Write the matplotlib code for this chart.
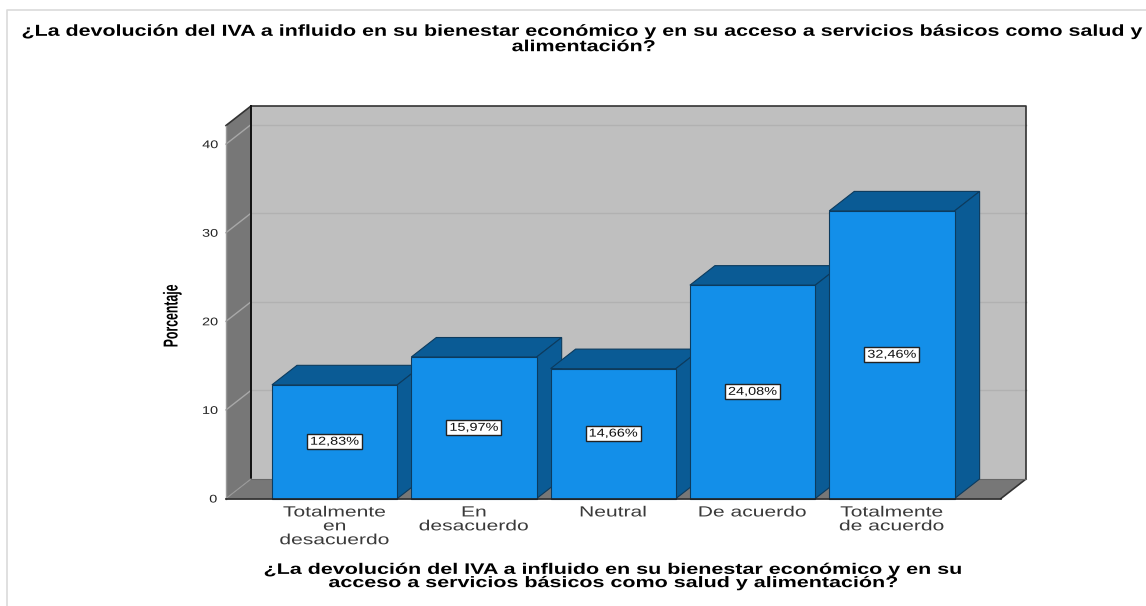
import matplotlib
matplotlib.use("Agg")
import matplotlib.pyplot as plt
from matplotlib.lines import Line2D
from matplotlib.patches import Polygon
from matplotlib.path import Path
from matplotlib.patheffects import AbstractPathEffect
from matplotlib.transforms import Affine2D

W, H = 1146, 606

categories = ["Totalmente\nen\ndesacuerdo", "En\ndesacuerdo", "Neutral", "De acuerdo", "Totalmente\nde acuerdo"]
values = [12.83, 15.97, 14.66, 24.08, 32.46]
value_labels = ["12,83%", "15,97%", "14,66%", "24,08%", "32,46%"]
y_ticks = [0, 10, 20, 30, 40]
title = "¿La devolución del IVA a influido en su bienestar económico y en su acceso a servicios básicos como salud y\nalimentación?"
x_title = "¿La devolución del IVA a influido en su bienestar económico y en su\nacceso a servicios básicos como salud y alimentación?"
y_title = "Porcentaje"

FONT = "Liberation Sans"
FRONT, SHADE = "#138FE9", "#0A5B95"
WALL, SIDE = "#BFBFBF", "#777777"
EDGE = "#0C3B5E"
BAR_W = 0.9
XMIN, XMAX, YMAX = -0.78, 4.783, 42.1
DX, DY = 25 / 139.3, 19.5 / 8.86  # depth offset in data units


class Stretch(AbstractPathEffect):
    """Draw a text line wider or narrower along its baseline, about its centre."""

    def __init__(self, sx):
        super().__init__()
        self.sx = sx

    def draw_path(self, renderer, gc, tpath, affine, rgbFace=None):
        ext = tpath.get_extents()
        cx = (ext.x0 + ext.x1) / 2
        pre = Affine2D().translate(-cx, 0).scale(self.sx, 1).translate(cx, 0)
        renderer.draw_path(gc, tpath, pre + affine, rgbFace)


def label_box(x0, y0, width, height, mutation_size):
    """Box for the value labels: a fixed 55x15 px rectangle about the text centre."""
    cx, cy = x0 + width / 2, y0 + height / 2
    hw, hh = 27.5, 7.5
    return Path([(cx - hw, cy - hh), (cx + hw, cy - hh), (cx + hw, cy + hh), (cx - hw, cy + hh), (cx - hw, cy - hh)],
                closed=True)


fig = plt.figure(figsize=(W / 100, H / 100), dpi=100, facecolor="white")
ax = fig.add_axes([226 / W, (H - 498.5) / H, 775 / W, 373 / H])
ax.set_xlim(XMIN, XMAX)
ax.set_ylim(0, YMAX)
ax.patch.set_visible(False)
for s in ax.spines.values():
    s.set_visible(False)


def poly(pts, fc, ec="none", lw=0.0, z=1):
    ax.add_patch(Polygon(pts, closed=True, facecolor=fc, edgecolor=ec, linewidth=lw,
                         joinstyle="miter", clip_on=False, zorder=z))


# walls
poly([(XMIN + DX, DY), (XMAX + DX, DY), (XMAX + DX, YMAX + DY), (XMIN + DX, YMAX + DY)], WALL)
poly([(XMIN, 0), (XMIN + DX, DY), (XMIN + DX, YMAX + DY), (XMIN, YMAX)], SIDE)
poly([(XMIN, 0), (XMAX, 0), (XMAX + DX, DY), (XMIN + DX, DY)], SIDE)

# gridlines on back and left walls
for t in y_ticks[1:]:
    ax.plot([XMIN + DX, XMAX + DX], [t + DY, t + DY], color="#B1B1B1", lw=1, zorder=2, clip_on=False)
    ax.plot([XMIN, XMIN + DX], [t, t + DY], color="#A8A8A8", lw=1, zorder=2, clip_on=False)

# wall edges
ax.plot([XMIN, XMIN + DX, XMAX + DX, XMAX + DX, XMAX], [YMAX, YMAX + DY, YMAX + DY, DY, 0],
        color="#333333", lw=1.2, zorder=3, clip_on=False)
ax.plot([XMIN + DX, XMIN + DX], [DY, YMAX + DY], color="#111111", lw=1.4, zorder=3, clip_on=False)
ax.plot([XMIN, XMIN], [0, YMAX], color="#999999", lw=1.0, zorder=3, clip_on=False)
ax.plot([XMIN, XMIN + DX], [0, DY], color="#999999", lw=0.8, zorder=3, clip_on=False)
ax.plot([XMIN + DX, XMAX + DX], [DY, DY], color="#666666", lw=0.8, zorder=3, clip_on=False)

# bars
for i, v in enumerate(values):
    l, r = i - BAR_W / 2, i + BAR_W / 2
    z = 4 + i
    poly([(l, v), (r, v), (r + DX, v + DY), (l + DX, v + DY)], SHADE, EDGE, 0.8, z)
    poly([(r, 0), (r + DX, DY), (r + DX, v + DY), (r, v)], SHADE, EDGE, 0.8, z)
    poly([(l, 0), (r, 0), (r, v), (l, v)], FRONT, EDGE, 0.8, z)
    t = ax.text(i, v / 2, value_labels[i], ha="center", va="center", fontsize=8.2, color="#111111",
                family=FONT, zorder=20,
                bbox=dict(boxstyle=label_box, fc="white", ec="#222222", lw=1.0))
    t.set_path_effects([Stretch(1.27)])

ax.plot([XMIN, XMAX], [0, 0], color="#222222", lw=1.2, zorder=15, clip_on=False)

# axes text
ax.set_xticks(range(len(categories)))
ax.set_xticklabels(categories, fontsize=10.6, color="#3A3A3A", linespacing=0.99, family=FONT)
ax.set_yticks(y_ticks)
ax.set_yticklabels([str(t) for t in y_ticks], fontsize=8, color="#222222", family=FONT)
ax.tick_params(axis="both", length=0)
ax.tick_params(axis="x", pad=5)
ax.tick_params(axis="y", pad=7)
for t in ax.get_xticklabels():
    t.set_path_effects([Stretch(1.43)])
for t in ax.get_yticklabels():
    t.set_path_effects([Stretch(1.3)])

t1 = fig.text(584 / W, 1 - 39 / H, title, ha="center", va="center", fontsize=11.5, fontweight="bold",
              family=FONT, linespacing=1.03, color="black")
t1.set_path_effects([Stretch(1.342)])
t2 = fig.text(614 / W, 1 - 576.5 / H, x_title, ha="center", va="center", fontsize=11, fontweight="bold",
              family=FONT, linespacing=0.93, color="black")
t2.set_path_effects([Stretch(1.407)])
t3 = fig.text(172 / W, 1 - 316 / H, y_title, rotation=90, ha="center", va="center", fontsize=14.5,
              fontweight="bold", family=FONT, color="black")
t3.set_path_effects([Stretch(0.61)])

# outer frame
fig.add_artist(Line2D([7 / W, 7 / W, 1], [0, 1 - 10 / H, 1 - 10 / H], transform=fig.transFigure,
                      color="#DADADA", lw=1.2))

fig.savefig("out.png", dpi=100)
